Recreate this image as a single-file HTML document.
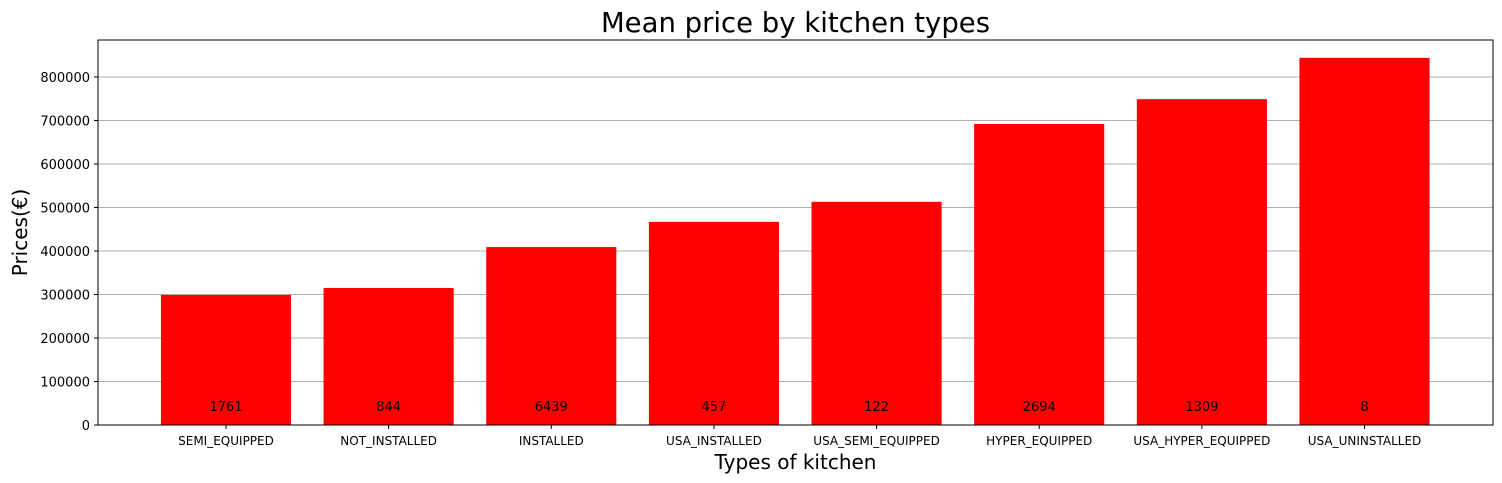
<!DOCTYPE html>
<html><head><meta charset="utf-8"><style>
body{margin:0;background:#fff;font-family:"DejaVu Sans","Liberation Sans",sans-serif;}
svg{display:block;font-family:"DejaVu Sans","Liberation Sans",sans-serif;}
</style></head><body>
<svg id="chart" width="1502" height="483"></svg>
<script>
const categories=["SEMI_EQUIPPED","NOT_INSTALLED","INSTALLED","USA_INSTALLED","USA_SEMI_EQUIPPED","HYPER_EQUIPPED","USA_HYPER_EQUIPPED","USA_UNINSTALLED"];
const meanPrices=[299000,315000,409000,467000,513000,692000,749000,844000];
const counts=[1761,844,6439,457,122,2694,1309,8];
const yTicks=[0,100000,200000,300000,400000,500000,600000,700000,800000];
const L=98,R=1493,T=40,B=425,yMax=885000,xMin=-0.787,xMax=7.79;
const ns="http://www.w3.org/2000/svg";
const svg=document.getElementById('chart');
const y=v=>B-(v/yMax)*(B-T);
const x=i=>L+(i-xMin)/(xMax-xMin)*(R-L);
const bw=0.8*(x(1)-x(0));
function mk(tag,attrs,text){const e=document.createElementNS(ns,tag);for(const k in attrs)e.setAttribute(k,attrs[k]);if(text!==undefined)e.textContent=text;svg.appendChild(e);return e;}
yTicks.forEach(v=>{
 const g=mk('line',{x1:L,x2:R,y1:y(v),y2:y(v),stroke:'#b0b0b0','stroke-width':1});
 
 
 const tk=mk('line',{x1:L-4,x2:L,y1:y(v),y2:y(v),stroke:'#000'});
 
 
 const t=mk('text',{x:L-8,y:y(v)+5,'text-anchor':'end','font-size':13},String(v));
 
 
});
categories.forEach((c,i)=>{
 const r=mk('rect',{x:x(i)-bw/2,y:y(meanPrices[i]),width:bw,height:B-y(meanPrices[i]),fill:'#ff0000'});
 
 
 const n=mk('text',{x:x(i),y:411,'text-anchor':'middle','font-size':13},String(counts[i]));
 
 
 const tk=mk('line',{x1:x(i),x2:x(i),y1:B,y2:B+4,stroke:'#000'});
 
 
 const t=mk('text',{x:x(i),y:445,'text-anchor':'middle','font-size':12},c);
 
 
});
const f=mk('rect',{x:L,y:T,width:R-L,height:B-T,fill:'none',stroke:'#000','stroke-width':1});


const tt=mk('text',{x:(L+R)/2,y:32,'text-anchor':'middle','font-size':27.5},'Mean price by kitchen types');


const xl=mk('text',{x:(L+R)/2,y:469,'text-anchor':'middle','font-size':20},'Types of kitchen');


const yl=mk('text',{x:27,y:(T+B)/2,'text-anchor':'middle','font-size':20,transform:'rotate(-90 27 '+((T+B)/2)+')'},'Prices(€)');


</script>
</body></html>
